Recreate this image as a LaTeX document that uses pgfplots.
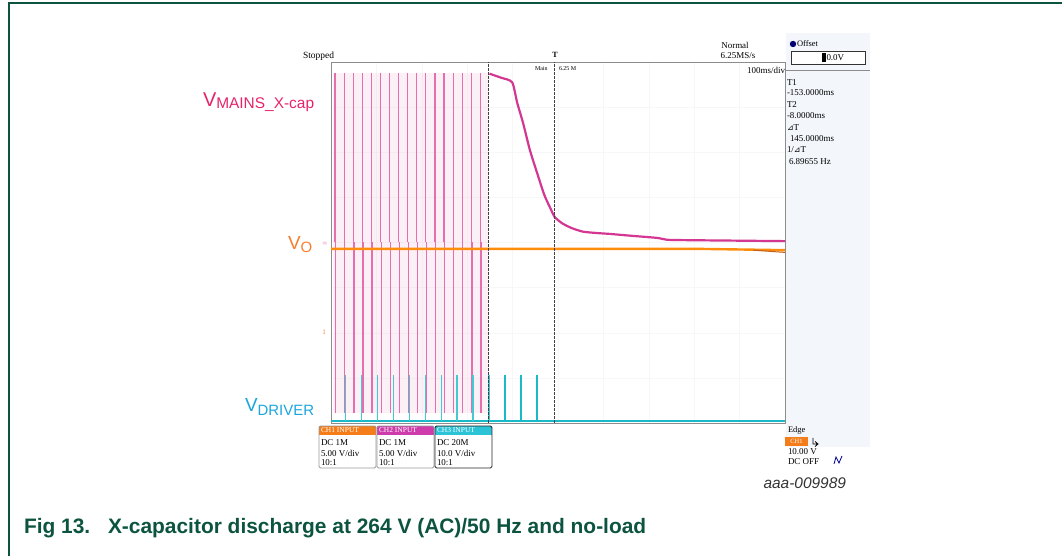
\documentclass[border=0pt]{standalone}
\usepackage{pgfplots}
\pgfplotsset{compat=1.18}
\usepackage{fontspec}
\setmainfont{Liberation Serif}
\newfontfamily\arial{Liberation Sans}
\newfontfamily\dejavu{DejaVu Sans}
\definecolor{nxpgreen}{RGB}{12,84,64}
\definecolor{mainslbl}{RGB}{230,35,105}
\definecolor{trpink}{RGB}{230,110,175}
\definecolor{trmag}{RGB}{212,55,145}
\definecolor{volbl}{RGB}{246,125,45}
\definecolor{trorange}{RGB}{255,140,10}
\definecolor{trbrown}{RGB}{190,95,25}
\definecolor{drvlbl}{RGB}{25,165,220}
\definecolor{trcyan}{RGB}{25,185,200}
\definecolor{trcyanl}{RGB}{70,200,210}
\definecolor{ch1}{RGB}{245,125,25}
\definecolor{ch2}{RGB}{205,60,170}
\definecolor{ch3}{RGB}{45,195,215}
\definecolor{panel}{RGB}{243,246,251}
\begin{document}
\begin{tikzpicture}
\begin{scope}[x=1bp,y=1bp]
\path[use as bounding box] (0,0) rectangle (1062,556);
\draw[nxpgreen, line width=1.5bp] (9,0) -- (9,553) -- (1062,553);
\fill[panel] (786,109) rectangle (870,523);
\end{scope}

\begin{axis}[
  at={(331bp,133bp)}, anchor=south west,
  width=454bp, height=361bp, scale only axis,
  xmin=-500, xmax=500, ymin=-4, ymax=4,
  axis line style={draw=black!45, line width=0.7bp},
  xtick={-400,-300,...,400}, ytick={-3,-2,...,3},
  xticklabels={}, yticklabels={}, major tick length=0pt,
  grid=major, major grid style={draw=black!3, line width=0.4bp},
  unbounded coords=jump,
]
% faint envelope of the mains oscillation
\addplot[fill=trpink, fill opacity=0.10, draw=none, mark=none] coordinates {
(-495,3.76) (-153,3.76) (-153,-3.78) (-495,-3.78)} \closedcycle;
% mains oscillation (positive and negative swings per period)
\addplot[ycomb, trpink, line width=1.2bp, mark=none] coordinates {
(-491,3.76) (-471,3.76) (-451,3.76) (-431,3.76) (-411,3.76) (-391,3.76)
(-371,3.76) (-351,3.76) (-331,3.76) (-311,3.76) (-291,3.76) (-271,3.76)
(-251,3.76) (-231,3.76) (-211,3.76) (-191,3.76) (-171,3.76)};
\addplot[ycomb, trpink, line width=1.2bp, mark=none] coordinates {
(-489.5,-3.78) (-469.5,-3.78) (-449.5,-3.78) (-429.5,-3.78) (-409.5,-3.78) (-389.5,-3.78)
(-369.5,-3.78) (-349.5,-3.78) (-329.5,-3.78) (-309.5,-3.78) (-289.5,-3.78) (-269.5,-3.78)
(-249.5,-3.78) (-229.5,-3.78) (-209.5,-3.78) (-189.5,-3.78) (-169.5,-3.78)};
% X-cap discharge
\addplot[trmag, line width=2.2bp, mark=none, smooth, tension=0.4] coordinates {
(-151,3.74) (-125,3.65) (-101,3.55) (-90,3.1) (-77,2.65) (-62,2.05) (-46,1.54)
(-30,1.05) (-15,0.72) (-7,0.56) (10,0.42) (30,0.32) (55,0.24) (85,0.21)
(114,0.19) (160,0.15) (220,0.10) (240,0.06) (300,0.05) (400,0.04) (500,0.03)};
% Vo
\addplot[trorange, line width=2.4bp, mark=none] coordinates {
(-500,-0.14) (300,-0.14) (500,-0.17)};
\addplot[trbrown, line width=1bp, mark=none] coordinates {
(430,-0.17) (500,-0.22)};
% driver
\addplot[trcyan, line width=2.4bp, mark=none] coordinates {
(-500,-3.96) (500,-3.96)};
\addplot[trcyanl, line width=1.3bp, mark=none] coordinates {
(-468.6,-3.96) (-468.6,-2.94) (-468.6,nan)
(-433.4,-3.96) (-433.4,-2.94) (-433.4,nan)
(-398.2,-3.96) (-398.2,-2.94) (-398.2,nan)
(-363,-3.96) (-363,-2.94) (-363,nan)
(-327.8,-3.96) (-327.8,-2.94) (-327.8,nan)
(-292.6,-3.96) (-292.6,-2.94) (-292.6,nan)
(-257.4,-3.96) (-257.4,-2.94) (-257.4,nan)
(-222.2,-3.96) (-222.2,-2.94) (-222.2,nan)
(-187,-3.96) (-187,-2.94) (-187,nan)
(-151.8,-3.96) (-151.8,-2.94) (-151.8,nan)};
\addplot[trcyan, line width=1.3bp, mark=none] coordinates {
(-116.6,-3.96) (-116.6,-2.94) (-116.6,nan)
(-81.4,-3.96) (-81.4,-2.94) (-81.4,nan)
(-46.2,-3.96) (-46.2,-2.94) (-46.2,nan)};
% cursors
\addplot[black!75, line width=1.3bp, dash pattern=on 2.5bp off 1.5bp, mark=none] coordinates {(-153,-4) (-153,4)};
\addplot[black!75, line width=1.3bp, dash pattern=on 2.5bp off 1.5bp, mark=none] coordinates {(-8,-4) (-8,4)};
\end{axis}

\begin{scope}[x=1bp,y=1bp, every node/.style={inner sep=0pt, outer sep=0pt}]
% top texts
\node[anchor=west, font=\fontsize{9.5}{10}\selectfont] at (303,500) {Stopped};
\node[font=\fontsize{8}{8}\selectfont\bfseries] at (555,501) {T};
\node[anchor=west, font=\fontsize{6}{6}\selectfont] at (535,487) {Main};
\node[anchor=west, font=\fontsize{6}{6}\selectfont] at (559,487) {6.25 M};
\node[font=\fontsize{9}{9}\selectfont] at (735,511) {Normal};
\node[font=\fontsize{9}{9}\selectfont] at (738,500) {6.25MS/s};
\node[anchor=east, font=\fontsize{9}{9}\selectfont] at (785,486) {100ms/div};
% right panel
\fill[blue!45!black] (793,512) circle (3.2);
\node[anchor=west, font=\fontsize{8.5}{9}\selectfont] at (797,512) {Offset};
\draw[black!80, line width=0.8bp, fill=white] (791,492) rectangle (865,505);
\fill[black] (822,494) rectangle (826,503);
\node[anchor=west, font=\fontsize{9}{9}\selectfont] at (826.5,498.5) {0.0V};
\draw[black!45, line width=0.7bp] (786,486) -- (870,486);
\node[anchor=west, font=\fontsize{9}{9}\selectfont] at (787,473.3) {T1};
\node[anchor=west, font=\fontsize{9}{9}\selectfont] at (787,463) {-153.0000ms};
\node[anchor=west, font=\fontsize{9}{9}\selectfont] at (787,451) {T2};
\node[anchor=west, font=\fontsize{9}{9}\selectfont] at (787,440) {-8.0000ms};
\node[anchor=west, font=\fontsize{9}{9}\selectfont] at (787,428.3) {{\dejavu\fontsize{8}{8}\selectfont ⊿}T};
\node[anchor=west, font=\fontsize{9}{9}\selectfont] at (790,417) {145.0000ms};
\node[anchor=west, font=\fontsize{9}{9}\selectfont] at (787,406) {1/{\dejavu\fontsize{8}{8}\selectfont ⊿}T};
\node[anchor=west, font=\fontsize{9}{9}\selectfont] at (789,394.3) {6.89655 Hz};
% left labels
\node[anchor=base west, text=mainslbl, font=\arial\fontsize{20}{20}\selectfont] at (203,449) {V\raisebox{-2bp}{\fontsize{15.5}{15}\selectfont MAINS\_X-cap}};
\node[anchor=base west, text=volbl, font=\arial\fontsize{19}{19}\selectfont] at (288,306) {V\raisebox{-3bp}{\fontsize{15}{15}\selectfont O}};
\node[anchor=base west, text=drvlbl, font=\arial\fontsize{19}{19}\selectfont] at (245,144) {V\raisebox{-4bp}{\fontsize{15}{15}\selectfont DRIVER}};
\node[text=trpink, font=\fontsize{9}{9}\selectfont] at (325,312) {=};
\node[text=volbl, font=\fontsize{7}{7}\selectfont] at (324,224) {1};
% channel boxes
\foreach \xa/\col/\hd/\la/\lb/\bc in {319/ch1/CH1 INPUT/DC 1M/5.00 V\slash div/black!40, 377/ch2/CH2 INPUT/DC 1M/5.00 V\slash div/black!40, 435/ch3/CH3 INPUT/DC 20M/10.0 V\slash div/black!85}{
  \fill[white] (\xa,88) rectangle ++(57,42);
  \fill[\col] (\xa,121) rectangle ++(57,9);
  \draw[\bc, line width=0.8bp, rounded corners=1.5bp] (\xa,88) rectangle ++(57,42);
  \node[anchor=west, text=white, font=\fontsize{7.5}{8}\selectfont] at (\xa+2,125.5) {\hd};
  \node[anchor=west, font=\fontsize{9}{9}\selectfont] at (\xa+2,113.3) {\la};
  \node[anchor=west, font=\fontsize{9}{9}\selectfont] at (\xa+2,103) {\lb};
  \node[anchor=west, font=\fontsize{9}{9}\selectfont] at (\xa+2,93.3) {10:1};
}
% trigger info
\node[anchor=west, font=\fontsize{8.5}{9}\selectfont] at (788,125.3) {Edge};
\fill[ch1] (785,110) rectangle (808,119);
\node[text=white, font=\fontsize{6.5}{7}\selectfont] at (796.5,114.5) {CH1};
\draw[black, line width=0.8bp] (813,118) -- (813,112) -- (818,112) (815,114.5) -- (818,112) -- (815,109.5);
\node[anchor=west, font=\fontsize{9}{9}\selectfont] at (788,104.3) {10.00 V};
\node[anchor=west, font=\fontsize{9}{9}\selectfont] at (788,94.3) {DC OFF};
\draw[blue!60!black, line width=0.8bp] (834,92) -- (836,99) -- (839,93) -- (842,100);
% figure id and caption
\node[anchor=base east, text=black!80, font=\arial\itshape\fontsize{15.5}{16}\selectfont] at (846,67) {aaa-009989};
\node[anchor=base west, text=nxpgreen, font=\arial\bfseries\fontsize{21}{22}\selectfont] at (24,22) {Fig 13.};
\node[anchor=base west, text=nxpgreen, font=\arial\bfseries\fontsize{21}{22}\selectfont] at (108,22) {X-capacitor discharge at 264 V (AC)/50 Hz and no-load};
\end{scope}
\end{tikzpicture}
\end{document}
